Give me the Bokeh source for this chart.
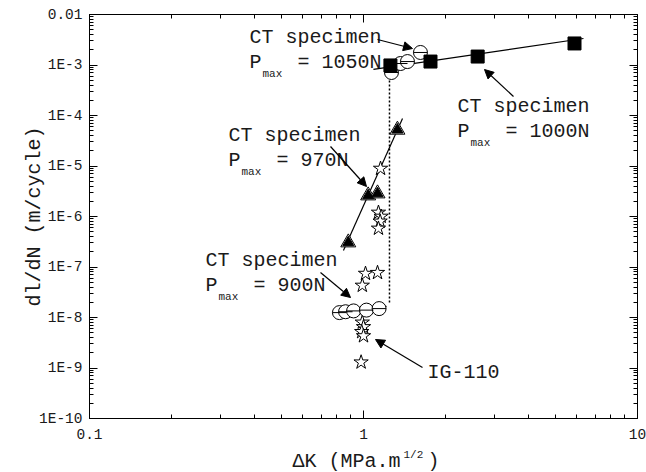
from bokeh.plotting import figure
from bokeh.layouts import column
from bokeh.models import (LogAxis, FixedTicker, CustomJSTickFormatter, Label,
                          Arrow, NormalHead, Range1d)
from bokeh.embed import file_html
from bokeh.resources import INLINE

# ---------------- data ----------------
# CT specimen, Pmax = 1000 N (filled squares)
sq1000_dk = [1.254, 1.756, 2.61, 5.89]
sq1000_rate = [9.8e-4, 1.17e-3, 1.47e-3, 2.67e-3]
fit1000_dk = [1.087, 6.35]
fit1000_rate = [8.2e-4, 3.35e-3]

# CT specimen, Pmax = 1050 N (open circles with bar)
c1050_dk = [1.265, 1.365, 1.447, 1.614]
c1050_rate = [7.1e-4, 1.07e-3, 1.17e-3, 1.77e-3]

# CT specimen, Pmax = 970 N (triangles)
t970_dk = [0.88, 1.04, 1.125, 1.33]
t970_rate = [3.05e-7, 2.6e-6, 2.85e-6, 5.2e-5]
fit970_dk = [0.845, 1.388]
fit970_rate = [2.12e-7, 8.7e-5]

# CT specimen, Pmax = 900 N (open circles with bar)
c900_dk = [0.817, 0.86, 0.92, 1.025, 1.14]
c900_rate = [1.25e-8, 1.3e-8, 1.35e-8, 1.4e-8, 1.5e-8]
fit900_dk = [0.79, 1.213]
fit900_rate = [1.15e-8, 1.66e-8]

# IG-110 (open stars)
ig_dk = [1.154, 1.134, 1.16, 1.15, 1.134, 1.017, 1.125, 0.99,
         0.99, 1.0, 0.985, 1.0, 0.98]
ig_rate = [8.9e-6, 1.2e-6, 1.0e-6, 8.0e-7, 5.8e-7, 7.4e-8, 7.7e-8, 4.3e-8,
           8.0e-9, 6.5e-9, 5.2e-9, 4.3e-9, 1.3e-9]

# vertical dotted threshold line
thr_dk = [1.244, 1.244]
thr_rate = [7.1e-4, 1.9e-8]

x_ticks = [0.1, 1, 10]
y_ticks = [1e-10, 1e-9, 1e-8, 1e-7, 1e-6, 1e-5, 1e-4, 1e-3, 1e-2]

# ---------------- helpers for annotation placement ----------------
W, H = 646, 472
FL, FR, FT, FB = 89, 637, 14, 418   # frame edges in picture pixels
H_MAIN = 446                        # main figure height; x-label strip below


def X(px):
    return 10 ** ((px - FL) / ((FR - FL) / 2) - 1)


def Y(py):
    return 10 ** (-2 - (py - FT) / ((FB - FT) / 8))


NB = "\u00a0"
FONT = "Liberation Mono"
TXT = "#1a1a1a"

p = figure(width=W, height=H_MAIN, x_axis_type="log", y_axis_type="log",
           x_range=Range1d(0.1, 10), y_range=Range1d(1e-10, 1e-2),
           output_backend="svg", toolbar_location=None,
           min_border_left=FL, min_border_right=W - FR, min_border_top=FT,
           min_border_bottom=H_MAIN - FB)
p.grid.visible = False
p.outline_line_color = "black"
p.outline_line_width = 1
p.background_fill_color = "white"
p.border_fill_color = "white"

x_minor = [k * 10.0 ** e for e in (-1, 0) for k in range(2, 10)]
y_minor = [k * 10.0 ** e for e in range(-10, -2) for k in range(2, 10)]

xt = FixedTicker(ticks=x_ticks, minor_ticks=x_minor)
yt = FixedTicker(ticks=y_ticks, minor_ticks=y_minor)

xfmt = CustomJSTickFormatter(code="return tick < 0.5 ? tick.toFixed(1) : tick.toFixed(0);")
yfmt = CustomJSTickFormatter(code="const e = Math.round(Math.log10(tick)); return e == -2 ? '0.01' : '1E' + e;")
blank = CustomJSTickFormatter(code="return '';")


def style_axis(ax):
    ax.axis_line_color = "black"
    ax.axis_line_width = 1
    ax.major_tick_in = 8
    ax.major_tick_out = 0
    ax.minor_tick_in = 4
    ax.minor_tick_out = 0
    ax.major_tick_line_color = "black"
    ax.minor_tick_line_color = "black"
    ax.major_label_text_font = FONT
    ax.major_label_text_font_size = "14.5px"
    ax.major_label_text_color = TXT


bx = p.below[0]
bx.ticker = xt
bx.formatter = xfmt
style_axis(bx)
bx.major_label_standoff = 10

ly = p.left[0]
ly.ticker = yt
ly.formatter = yfmt
style_axis(ly)
ly.major_label_standoff = 7
ly.axis_label = "dl/dN (m/cycle)"
ly.axis_label_text_font = FONT
ly.axis_label_text_font_size = "20px"
ly.axis_label_text_font_style = "normal"
ly.axis_label_text_color = TXT
ly.axis_label_standoff = -10

top = LogAxis(ticker=xt, formatter=blank, major_label_standoff=0)
style_axis(top)
top.major_label_text_font_size = "1px"
p.add_layout(top, "above")

rgt = LogAxis(ticker=yt, formatter=blank, major_label_standoff=0)
style_axis(rgt)
rgt.major_label_text_font_size = "1px"
p.add_layout(rgt, "right")

# ---------------- lines ----------------
p.line(thr_dk, thr_rate, line_color="black", line_width=1.5, line_dash="2 2")
p.line(fit1000_dk, fit1000_rate, line_color="black", line_width=1.2)
p.line(fit970_dk, fit970_rate, line_color="black", line_width=1.2)
p.line(fit900_dk, fit900_rate, line_color="black", line_width=1.2)

# ---------------- markers ----------------
p.scatter(ig_dk, ig_rate, marker="star", size=15, fill_color="white",
          line_color="black", line_width=1)
p.scatter(c900_dk, c900_rate, marker="circle", size=14, fill_color="white",
          line_color="black", line_width=1)
p.scatter(c900_dk, c900_rate, marker="dash", size=14, line_color="black", line_width=1)
p.scatter(t970_dk, t970_rate, marker="triangle", size=15, fill_color="white",
          line_color="black", line_width=1)
p.scatter(t970_dk, t970_rate, marker="triangle", size=11, fill_color="black",
          line_color="black", line_width=1)
p.scatter(c1050_dk, c1050_rate, marker="circle", size=14, fill_color="white",
          line_color="black", line_width=1)
p.scatter(c1050_dk, c1050_rate, marker="dash", size=14, line_color="black", line_width=1)
p.scatter(sq1000_dk, sq1000_rate, marker="square", size=13, fill_color="black",
          line_color="black", line_width=1)


# ---------------- annotations ----------------
def txt(px, py, s, size="20px"):
    p.add_layout(Label(x=X(px), y=Y(py), text=s, text_font=FONT,
                       text_font_size=size, text_color=TXT,
                       text_baseline="middle", text_align="left"))


def arrow(x0, y0, x1, y1):
    p.add_layout(Arrow(end=NormalHead(size=9, fill_color="black", line_color="black"),
                       x_start=X(x0), y_start=Y(y0), x_end=X(x1), y_end=Y(y1),
                       line_color="black", line_width=1.2))


def spec(px, py, load):
    txt(px, py, "CT" + NB + "specimen")
    txt(px, py + 25, "P" + NB * 3 + "=" + NB + load)
    txt(px + 13, py + 36, "max", size="11px")


spec(249, 37, "1050N")
spec(457, 106, "1000N")
spec(228, 135, "970N")
spec(205, 260, "900N")
txt(427, 372, "IG-110")

arrow(377, 39, 412, 48)
arrow(513, 96, 484, 69)
arrow(330, 146, 366, 186)
arrow(320, 272, 350, 297)
arrow(422, 367, 375, 339)

# ---------------- x-axis title strip (with superscript) ----------------
# the column aligns this strip's frame with the main frame (FL..FR)
HS = H - H_MAIN
q = figure(width=W, height=HS, x_range=Range1d(FL, FR), y_range=Range1d(0, HS),
           x_axis_location=None, y_axis_location=None,
           output_backend="svg", toolbar_location=None, min_border=0)
q.grid.visible = False
q.outline_line_color = None
q.background_fill_color = "white"
q.border_fill_color = "white"


def qtxt(px, py, s, size="20px"):
    q.add_layout(Label(x=px, y=H - py, text=s, text_font=FONT,
                       text_font_size=size, text_color=TXT,
                       text_baseline="middle", text_align="left"))


qtxt(292, 461, "\u0394K" + NB + "(MPa.m")
qtxt(403, 454, "1/2", size="11px")
qtxt(427, 461, ")")

layout = column(p, q, spacing=0)
open("out.html", "w").write(file_html(layout, INLINE))
